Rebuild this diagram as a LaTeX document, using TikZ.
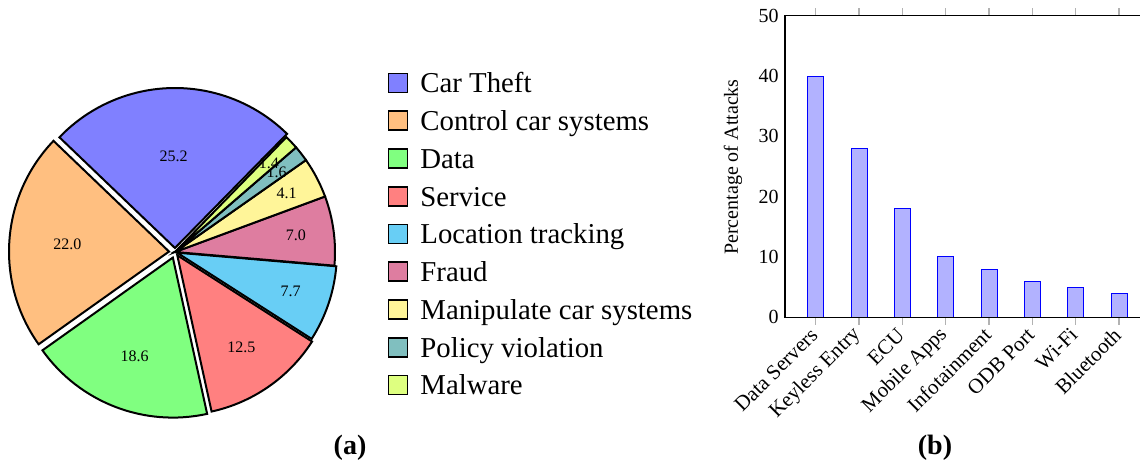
\documentclass[tikz,border=0pt]{standalone}
\usepackage{fontspec}
\setmainfont{Liberation Serif}
\usetikzlibrary{calc}
\definecolor{theft}{RGB}{128,128,255}
\definecolor{control}{RGB}{255,191,128}
\definecolor{data}{RGB}{128,255,128}
\definecolor{service}{RGB}{255,128,128}
\definecolor{location}{RGB}{104,206,245}
\definecolor{fraud}{RGB}{222,125,160}
\definecolor{manip}{RGB}{255,245,153}
\definecolor{policy}{RGB}{128,191,191}
\definecolor{malware}{RGB}{222,255,128}
\tikzset{
  slice/.style={draw=black, line width=1pt},
  pielabel/.style={font=\fontsize{8}{9}\selectfont, inner sep=0},
  legbox/.style={draw=black, line width=0.8pt, minimum size=9.5pt, inner sep=0},
  legtext/.style={font=\fontsize{14.4}{17}\selectfont, anchor=base west, inner sep=0},
  bar/.style={draw=blue, fill=blue!30, line width=0.5pt},
  tickmark/.style={draw=gray!60, line width=0.6pt},
  axisline/.style={line width=0.7pt},
  ylab/.style={anchor=east, inner sep=3pt, font=\fontsize{10}{12}\selectfont},
  xlab/.style={rotate=45, anchor=east, inner sep=1pt, font=\fontsize{10.5}{12}\selectfont},
  caption/.style={font=\fontsize{14}{16}\selectfont\bfseries}
}
\begin{document}
\begin{tikzpicture}[x=0.5pt, y=0.5pt]
  \useasboundingbox (0,0) rectangle (1140,465);
  % pie (a)
  \coordinate (pc) at (175,213);
  \def\curang{45.5}
  \foreach \pct/\col/\ex/\dist [count=\i] in {25.2/theft/4/92, 22.0/control/6/102,
      18.6/data/6/106, 12.5/service/4/112, 7.7/location/2/120, 7.0/fraud/0/122,
      4.1/manip/0/126, 1.6/policy/0/129, 1.4/malware/0/129}{
    \pgfmathsetmacro\astart{\curang}
    \pgfmathsetmacro\aend{\astart+3.6*\pct}
    \pgfmathsetmacro\amid{(\astart+\aend)/2}
    \coordinate (s\i) at ($(pc)+(\amid:\ex)$);
    \draw[slice, fill=\col] (s\i) -- ++(\astart:160)
      arc[start angle=\astart, end angle=\aend, radius=80pt] -- cycle;
    \node[pielabel] (n\i) at ($(s\i)+(\amid:\dist)$) {\pct};
    \xdef\curang{\aend}
  }
  % legend
  \foreach \txt/\col [count=\i] in {Car Theft/theft, Control car systems/control,
      Data/data, Service/service, Location tracking/location, Fraud/fraud,
      Manipulate car systems/manip, Policy violation/policy, Malware/malware}{
    \pgfmathsetmacro\yy{382-37.75*(\i-1)}
    \node[legbox, fill=\col] (k\i) at (398,\yy) {};
    \node[legtext] (t\i) at (420,\yy-10) {\txt};
  }
  % bars (b)
  \begin{scope}[shift={(785,147.7)}, y=3.016pt]
    \foreach \val [count=\i] in {40,28,18,10,8,6,5,4}{
      \pgfmathsetmacro\xx{30.7+43.33*(\i-1)}
      \draw[tickmark] (\xx,50) -- ++(0,4pt);
      \draw[tickmark] (\xx,0) -- ++(0,-4pt);
      \draw[bar] (\xx-8,0) rectangle (\xx+8,\val);
    }
    \draw[axisline] (355,0) -- (0,0) -- (0,50) -- (355,50);
    \foreach \val in {0,10,...,50}
      \node[ylab] (y\val) at (0,\val) {\val};
    \foreach \txt [count=\i] in {Data Servers, Keyless Entry, ECU, Mobile Apps,
        Infotainment, ODB Port, Wi-Fi, Bluetooth}{
      \pgfmathsetmacro\xx{30.7+43.33*(\i-1)}
      \node[xlab] (x\i) at (\xx,-2.1) {\txt};
    }
    \node[rotate=90, font=\fontsize{10}{12}\selectfont] (ytitle) at (-52,24.9) {Percentage of Attacks};
  \end{scope}
  \node[caption] (capa) at (350,17) {(a)};
  \node[caption] (capb) at (935,17) {(b)};
\end{tikzpicture}
\end{document}
